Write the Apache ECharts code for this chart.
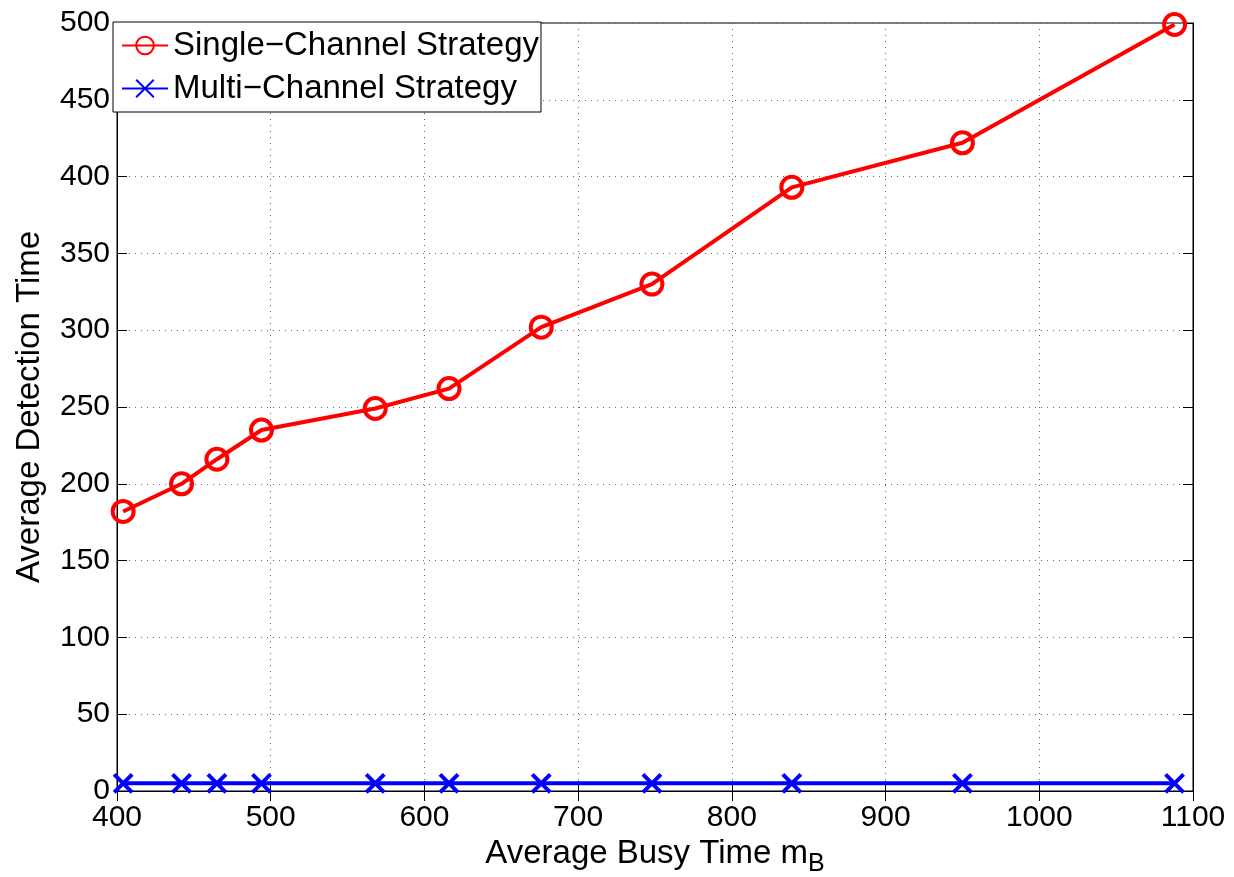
<!DOCTYPE html>
<html>
<head>
<meta charset="utf-8">
<script src="https://cdn.jsdelivr.net/npm/echarts@6/dist/echarts.min.js"></script>
<style>
  html, body { margin: 0; padding: 0; background: #fff; }
  #chart { width: 1234px; height: 877px; }
</style>
</head>
<body>
<div id="chart"></div>
<script>
const busyTime = [404, 442, 465, 494, 568, 616, 676, 748, 839, 950, 1088]
const singleChannel = [182, 200, 216, 235, 249, 262, 302, 330, 393, 422, 499]
const multiChannel = [5, 5, 5, 5, 5, 5, 5, 5, 5, 5, 5]

const font = 'Liberation Sans, Arial, sans-serif'
const gridLine = { show: true, lineStyle: { color: '#666', type: [1, 5], width: 1 } }

const chart = echarts.init(document.getElementById('chart'))

const opt = {
  backgroundColor: '#fff',
  animation: false,
  grid: {
    left: 117,
    right: 41,
    top: 23,
    bottom: 86,
    outerBoundsMode: 'none',
    containLabel: false,
    show: true,
    borderColor: '#000',
    borderWidth: 1
  },
  legend: {
    left: 113,
    top: 22,
    orient: 'vertical',
    backgroundColor: '#fff',
    borderColor: '#000',
    borderWidth: 1,
    padding: [7, 2, 7, 8],
    itemGap: 10,
    itemWidth: 46,
    itemHeight: 22,
    textStyle: { fontFamily: font, fontSize: 33, color: '#000' },
    data: ['Single\u2212Channel Strategy', 'Multi\u2212Channel Strategy']
  },
  xAxis: [{
    type: 'value',
    min: 400,
    max: 1100,
    interval: 100,
    name: 'Average Busy Time m{sub|B}',
    nameLocation: 'middle',
    nameGap: 36,
    nameTextStyle: {
      fontFamily: font,
      fontSize: 33,
      color: '#000',
      rich: { sub: { fontFamily: font, fontSize: 25, color: '#000', verticalAlign: 'bottom', padding: [20, 0, 0, 0] } }
    },
    axisLine: { show: true, lineStyle: { color: '#000', width: 1 } },
    axisTick: { show: true, inside: true, length: 10, lineStyle: { color: '#000' } },
    axisLabel: { fontFamily: font, fontSize: 30, color: '#000', margin: 12, formatter: v => String(v) },
    splitLine: gridLine
  }, {
    type: 'value',
    position: 'top',
    min: 400,
    max: 1100,
    interval: 100,
    axisLine: { show: true, lineStyle: { color: '#000' } },
    axisTick: { show: true, inside: true, length: 10, lineStyle: { color: '#000' } },
    axisLabel: { show: false },
    splitLine: { show: false }
  }],
  yAxis: [{
    type: 'value',
    min: 0,
    max: 500,
    interval: 50,
    name: 'Average Detection Time',
    nameLocation: 'middle',
    nameGap: 71,
    nameTextStyle: { fontFamily: font, fontSize: 33, color: '#000' },
    axisLine: { show: true, lineStyle: { color: '#000', width: 1 } },
    axisTick: { show: true, inside: true, length: 10, lineStyle: { color: '#000' } },
    axisLabel: { fontFamily: font, fontSize: 30, color: '#000', margin: 7, formatter: v => String(v) },
    splitLine: gridLine
  }, {
    type: 'value',
    position: 'right',
    min: 0,
    max: 500,
    interval: 50,
    axisLine: { show: true, lineStyle: { color: '#000' } },
    axisTick: { show: true, inside: true, length: 10, lineStyle: { color: '#000' } },
    axisLabel: { show: false },
    splitLine: { show: false }
  }],
  series: [{
    name: 'Single\u2212Channel Strategy',
    type: 'line',
    data: busyTime.map((x, i) => [x, singleChannel[i]]),
    symbol: 'circle',
    symbolSize: 21,
    showSymbol: true,
    lineStyle: { color: '#ff0000', width: 4 },
    itemStyle: { color: 'rgba(0,0,0,0)', borderColor: '#ff0000', borderWidth: 4 },
    z: 3
  }, {
    name: 'Multi\u2212Channel Strategy',
    type: 'line',
    data: busyTime.map((x, i) => [x, multiChannel[i]]),
    symbol: 'path://M0,0L10,10M10,0L0,10',
    symbolSize: 18,
    showSymbol: true,
    lineStyle: { color: '#0000ff', width: 4 },
    itemStyle: { color: '#0000ff', borderColor: '#0000ff', borderWidth: 4 },
    z: 3
  }]
}

chart.setOption(opt)
</script>
</body>
</html>
